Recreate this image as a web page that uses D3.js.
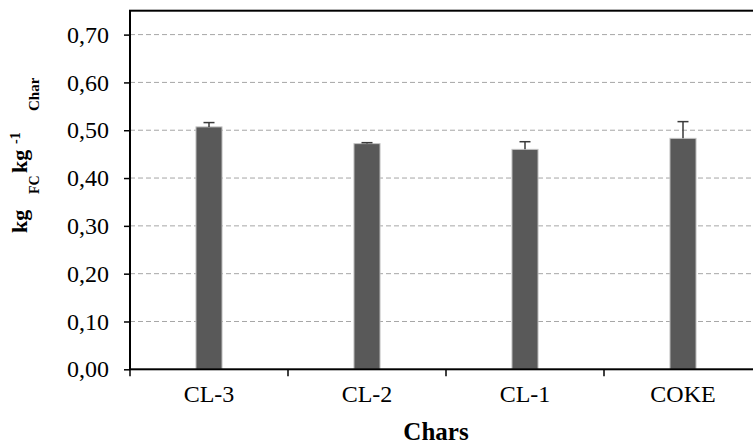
<!DOCTYPE html>
<html>
<head>
<meta charset="utf-8">
<script src="https://cdn.jsdelivr.net/npm/d3@7"></script>
<style>
  html, body { margin: 0; padding: 0; background: #fff; }
  svg { display: block; font-family: "Liberation Serif", "Times New Roman", serif; }
</style>
</head>
<body>
<svg width="753" height="446"></svg>
<script>
const width = 753;
const height = 446;

// data
const categories = ["CL-3", "CL-2", "CL-1", "COKE"];
const values = [0.507, 0.472, 0.460, 0.483];
const errors = [0.009, 0.002, 0.016, 0.035];
const yTicks = [0, 0.1, 0.2, 0.3, 0.4, 0.5, 0.6, 0.7];

const plot = { left: 130, right: 762, top: 10.7, bottom: 369.3 };

const svg = d3.select("svg");

const y = d3.scaleLinear().domain([0, 0.75]).range([plot.bottom, plot.top]);
const x = d3.scaleBand().domain(categories).range([plot.left, plot.right])
    .paddingInner(0.835).paddingOuter(0.4175);
const xCat = d3.scaleBand().domain(categories).range([plot.left, plot.right]).padding(0);

const comma = d3.formatLocale({ decimal: ",", thousands: ".", grouping: [3], currency: ["", ""] });
const fmt = comma.format(".2f");

// gridlines
svg.append("g")
    .selectAll("line")
    .data(yTicks.filter(d => d > 0))
    .enter().append("line")
    .attr("x1", plot.left)
    .attr("x2", 751)
    .attr("y1", d => y(d))
    .attr("y2", d => y(d))
    .attr("stroke", "#a6a6a6")
    .attr("stroke-width", 1)
    .attr("stroke-dasharray", "5,3");

// bars
svg.append("g")
    .selectAll("rect")
    .data(categories)
    .enter().append("rect")
    .attr("x", d => x(d))
    .attr("y", (d, i) => y(values[i]))
    .attr("width", x.bandwidth())
    .attr("height", (d, i) => y(0) - y(values[i]))
    .attr("fill", "#595959")
    .attr("stroke", "#c4c4c4")
    .attr("stroke-width", 1);

// error bars (upper only)
const err = svg.append("g").attr("stroke", "#3a3a3a").attr("stroke-width", 1.5);
categories.forEach((c, i) => {
    const cx = x(c) + x.bandwidth() / 2;
    err.append("line")
        .attr("x1", cx).attr("x2", cx)
        .attr("y1", y(values[i])).attr("y2", y(values[i] + errors[i]));
    err.append("line")
        .attr("x1", cx - 5.5).attr("x2", cx + 5.5)
        .attr("y1", y(values[i] + errors[i])).attr("y2", y(values[i] + errors[i]));
});

// y axis
const yAxis = svg.append("g")
    .attr("transform", `translate(${plot.left},0)`)
    .call(d3.axisLeft(y).tickValues(yTicks).tickFormat(fmt).tickSize(6).tickPadding(15));
yAxis.select(".domain").remove();
yAxis.selectAll(".tick line").attr("stroke", "#000").attr("stroke-width", 1.5);
yAxis.selectAll(".tick text")
    .attr("font-family", "Liberation Serif")
    .attr("font-size", 24)
    .attr("fill", "#000");

// x axis
const xAxis = svg.append("g")
    .attr("transform", `translate(0,${plot.bottom})`)
    .call(d3.axisBottom(x).tickSize(0).tickPadding(16));
xAxis.select(".domain").remove();
xAxis.selectAll(".tick text")
    .attr("font-family", "Liberation Serif")
    .attr("font-size", 24)
    .attr("fill", "#000");

// category separators
svg.append("g")
    .selectAll("line")
    .data(categories)
    .enter().append("line")
    .attr("x1", d => xCat(d))
    .attr("x2", d => xCat(d))
    .attr("y1", plot.bottom)
    .attr("y2", plot.bottom + 7)
    .attr("stroke", "#000")
    .attr("stroke-width", 1.5);

// frame
svg.append("rect")
    .attr("x", plot.left)
    .attr("y", plot.top)
    .attr("width", plot.right - plot.left)
    .attr("height", plot.bottom - plot.top)
    .attr("fill", "none")
    .attr("stroke", "#000")
    .attr("stroke-width", 2);

// axis titles
svg.append("text")
    .attr("x", 436)
    .attr("y", 440)
    .attr("text-anchor", "middle")
    .attr("font-weight", "bold")
    .attr("font-size", 25)
    .text("Chars");

// y title pieces: [text, font size, baseline x, start y]
const yTitle = [
    ["kg", 22, 27, 233],
    ["FC", 14, 39, 194],
    ["kg", 22, 27, 173],
    ["-1", 14, 20, 144],
    ["Char", 15, 39, 111]
];
svg.append("g")
    .selectAll("text")
    .data(yTitle)
    .enter().append("text")
    .attr("transform", d => `translate(${d[2]},${d[3]}) rotate(-90)`)
    .attr("font-weight", "bold")
    .attr("font-size", d => d[1])
    .text(d => d[0]);
</script>
</body>
</html>
